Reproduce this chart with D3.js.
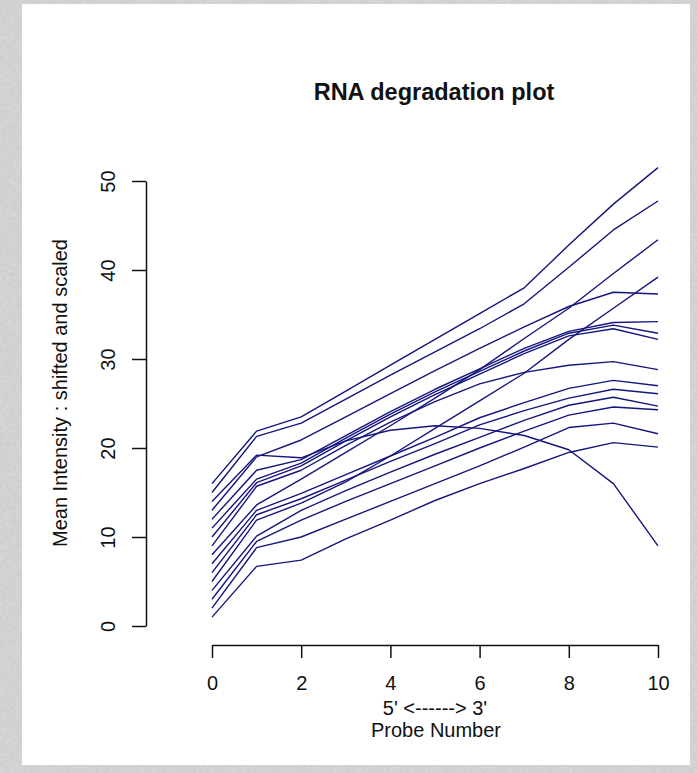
<!DOCTYPE html>
<html>
<head>
<meta charset="utf-8">
<script src="https://cdn.jsdelivr.net/npm/d3@7"></script>
<style>
  body { margin: 0; background: #d2d2d2; }
  svg { display: block; }
  text { font-family: "Liberation Sans", Arial, sans-serif; fill: #111; }
</style>
</head>
<body>
<svg id="chart" width="697" height="773"></svg>
<script>
// Probe positions along the transcript (5' -> 3')
const probeNumbers = [0, 1, 2, 3, 4, 5, 6, 7, 8, 9, 10];

// Mean intensity per probe position, shifted and scaled, one array per sample
const sample16 = [16, 21.9, 23.5, 26.4, 29.3, 32.2, 35.1, 38.0, 42.8, 47.4, 51.5];
const sample15 = [15, 21.3, 22.8, 25.5, 28.2, 30.8, 33.4, 36.2, 40.3, 44.5, 47.75];
const sample14 = [14, 19.2, 18.9, 20.8, 22.0, 22.5, 22.2, 21.4, 19.8, 16.0, 9.0];
const sample13 = [13, 19.0, 20.9, 23.5, 26.1, 28.7, 31.2, 33.6, 35.9, 37.5, 37.3];
const sample12 = [12, 17.5, 18.7, 21.4, 24.1, 26.6, 28.9, 31.2, 33.1, 34.1, 34.2];
const sample11 = [11, 16.5, 18.3, 21.1, 23.8, 26.3, 28.6, 30.9, 32.9, 33.8, 32.9];
const sample10 = [10, 16.1, 18.0, 20.8, 23.5, 26.0, 28.3, 30.6, 32.6, 33.4, 32.2];
const sample09 = [9, 15.7, 17.5, 20.3, 22.9, 25.2, 27.2, 28.5, 29.3, 29.7, 28.8];
const sample08 = [8, 13.6, 16.5, 19.5, 22.5, 25.6, 28.8, 32.3, 35.7, 39.6, 43.4];
const sample07 = [7, 13.0, 14.9, 17.0, 19.1, 21.2, 23.4, 25.1, 26.7, 27.6, 27.0];
const sample06 = [6, 12.5, 14.3, 16.4, 18.5, 20.5, 22.6, 24.2, 25.6, 26.6, 26.1];
const sample05 = [5, 11.9, 13.8, 16.2, 19.1, 22.2, 25.3, 28.4, 32.2, 35.7, 39.2];
const sample04 = [4, 10.1, 13.0, 15.2, 17.3, 19.3, 21.2, 23.1, 24.8, 25.7, 24.7];
const sample03 = [3, 9.5, 11.9, 14.0, 16.0, 18.0, 20.0, 21.9, 23.7, 24.6, 24.3];
const sample02 = [2, 8.8, 10.0, 12.0, 14.0, 16.0, 18.0, 20.1, 22.3, 22.8, 21.6];
const sample01 = [1, 6.7, 7.4, 9.8, 11.9, 14.1, 16.0, 17.7, 19.5, 20.6, 20.1];

const xTickValues = [0, 2, 4, 6, 8, 10];
const yTickValues = [0, 10, 20, 30, 40, 50];

const titleText = "RNA degradation plot";
const xLabelArrow = "5' <------> 3'";
const xLabelText = "Probe Number";
const yLabelText = "Mean Intensity : shifted and scaled";

const samples = [sample01, sample02, sample03, sample04, sample05, sample06, sample07, sample08,
                 sample09, sample10, sample11, sample12, sample13, sample14, sample15, sample16];

const svg = d3.select("#chart");

// textured grey backdrop and white plotting page
const defs = svg.append("defs");
const noise = defs.append("filter").attr("id", "grain").attr("x", 0).attr("y", 0).attr("width", "100%").attr("height", "100%");
noise.append("feTurbulence").attr("type", "fractalNoise").attr("baseFrequency", 0.3).attr("numOctaves", 2).attr("seed", 3);
noise.append("feColorMatrix").attr("type", "matrix")
  .attr("values", "0 0 0 0 0.55  0 0 0 0 0.55  0 0 0 0 0.55  0 0 0 1.2 -0.3");
svg.append("rect").attr("width", 697).attr("height", 773).attr("fill", "#d6d6d6");
svg.append("rect").attr("width", 697).attr("height", 773).attr("filter", "url(#grain)").attr("opacity", 0.7);
svg.append("rect").attr("x", 22).attr("y", 4).attr("width", 668).attr("height", 761).attr("fill", "#ffffff");

const x = d3.scaleLinear().domain([0, 10]).range([212, 658]);
const y = d3.scaleLinear().domain([0, 50]).range([626, 181]);

// one polyline per sample
const line = d3.line().x((d, i) => x(probeNumbers[i])).y(d => y(d));
svg.append("g").attr("class", "series")
  .selectAll("path").data(samples).join("path")
  .attr("d", line)
  .attr("fill", "none")
  .attr("stroke", "#15157e")
  .attr("stroke-width", 1.4)
  .attr("stroke-linejoin", "round");

// y axis: line spans the tick range, labels turned parallel to the axis
const yAxis = svg.append("g").attr("transform", "translate(146,0)")
  .call(d3.axisLeft(y).tickValues(yTickValues).tickSize(14).tickSizeOuter(0).tickPadding(0));
yAxis.selectAll("path, line").attr("stroke", "#111").attr("stroke-width", 1.5);
yAxis.selectAll("text").remove();
yAxis.selectAll(".tick").append("text")
  .attr("transform", "translate(-38,0) rotate(-90)")
  .attr("text-anchor", "middle")
  .attr("dy", "0.36em")
  .style("font-size", "20px")
  .text(d => d);

// x axis
const xAxis = svg.append("g").attr("transform", "translate(0,645)")
  .call(d3.axisBottom(x).tickValues(xTickValues).tickSize(13).tickSizeOuter(0).tickPadding(0));
xAxis.selectAll("path, line").attr("stroke", "#111").attr("stroke-width", 1.5);
xAxis.selectAll("text").remove();
xAxis.selectAll(".tick").append("text")
  .attr("y", 45)
  .attr("text-anchor", "middle")
  .style("font-size", "20px")
  .text(d => d);

// titles
svg.append("text").attr("x", 434).attr("y", 100).attr("text-anchor", "middle")
  .style("font-size", "23.5px").style("font-weight", "bold").text(titleText);
svg.append("text").attr("x", 435).attr("y", 715).attr("text-anchor", "middle")
  .style("font-size", "20px").text(xLabelArrow);
svg.append("text").attr("x", 436).attr("y", 737).attr("text-anchor", "middle")
  .style("font-size", "20px").text(xLabelText);
svg.append("text").attr("transform", "translate(67,393) rotate(-90)").attr("text-anchor", "middle")
  .style("font-size", "20px").text(yLabelText);
</script>
</body>
</html>
